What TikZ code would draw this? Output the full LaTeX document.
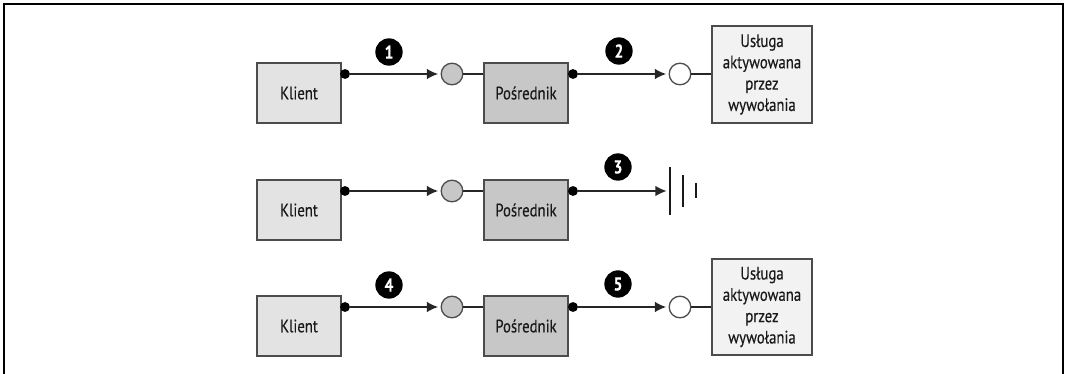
\documentclass[tikz,border=0pt]{standalone}
\usepackage{fontspec}
\setmainfont[FakeStretch=0.82,FakeBold=0.3]{PT Sans}
\usetikzlibrary{arrows.meta}
\definecolor{lightbox}{gray}{0.89}
\definecolor{midbox}{gray}{0.78}
\definecolor{palebox}{gray}{0.95}
\definecolor{edge}{gray}{0.3}
\tikzset{
  x=0.75pt,y=-0.75pt,
  boxbase/.style={draw=edge,line width=1.3pt,inner sep=0pt,align=center,font=\fontsize{13.5}{16}\selectfont,text=black!90},
  client/.style={boxbase,fill=lightbox,minimum width=63pt,minimum height=44.5pt},
  broker/.style={boxbase,fill=midbox,minimum width=63pt,minimum height=44.5pt},
  service/.style={boxbase,fill=palebox,minimum width=75pt,minimum height=72.5pt},
  port/.style={circle,draw=edge,line width=1pt,minimum size=16.2pt,inner sep=0pt},
  greyport/.style={port,fill=midbox},
  whiteport/.style={port,fill=white},
  startdot/.style={circle,fill=black,minimum size=7.4pt,inner sep=0pt},
  badge/.style={circle,fill=black,text=white,minimum size=20.5pt,inner sep=0pt,font=\fontsize{14}{14}\bfseries\selectfont},
  link/.style={line width=1.1pt,draw=black!85},
  call/.style={link,shorten >=1.8pt,-{Latex[length=8.5pt,width=8pt]}},
  plate/.style={line width=2pt,draw=black!90}
}
\begin{document}
\begin{tikzpicture}
\useasboundingbox (0,0) rectangle (1065,374);
\draw[line width=1.8pt,line cap=butt] (4,374) -- (4,4) -- (1063,4) -- (1063,374);
% row 1
\node[client] (k1) at (299,93) {Klient};
\node[broker] (p1) at (526,93) {Pośrednik};
\node[service] (s1) at (762,74.5) {Usługa\\aktywowana\\przez\\wywołania};
\node[greyport] (g1) at (452,74) {};
\node[whiteport] (w1) at (680,74) {};
\node[startdot] (d1) at (345,74) {};
\node[startdot] (d2) at (573,74) {};
\draw[call] (d1) -- (g1);
\draw[link] (g1) -- (g1-|p1.west);
\draw[call] (d2) -- (w1);
\draw[link] (w1) -- (w1-|s1.west);
\node[badge] (n1) at (389,52) {1};
\node[badge] (n2) at (619,51) {2};
% row 2
\node[client] (k2) at (299,210) {Klient};
\node[broker] (p2) at (526,210) {Pośrednik};
\node[greyport] (g2) at (452,191) {};
\node[startdot] (d3) at (345,191) {};
\node[startdot] (d4) at (573,191) {};
\coordinate (b1) at (669,191);
\draw[call] (d3) -- (g2);
\draw[link] (g2) -- (g2-|p2.west);
\draw[call] (d4) -- (b1);
\draw[plate] (670,167) -- (670,215);
\draw[plate] (683,175) -- (683,207);
\draw[plate] (696,183) -- (696,198);
\node[badge] (n3) at (618,167) {3};
% row 3
\node[client] (k3) at (299,326) {Klient};
\node[broker] (p3) at (526,326) {Pośrednik};
\node[service] (s3) at (762,307) {Usługa\\aktywowana\\przez\\wywołania};
\node[greyport] (g3) at (452,307) {};
\node[whiteport] (w3) at (680,307) {};
\node[startdot] (d5) at (345,307) {};
\node[startdot] (d6) at (573,307) {};
\draw[call] (d5) -- (g3);
\draw[link] (g3) -- (g3-|p3.west);
\draw[call] (d6) -- (w3);
\draw[link] (w3) -- (w3-|s3.west);
\node[badge] (n4) at (389,285) {4};
\node[badge] (n5) at (618,284) {5};
\end{tikzpicture}
\end{document}
